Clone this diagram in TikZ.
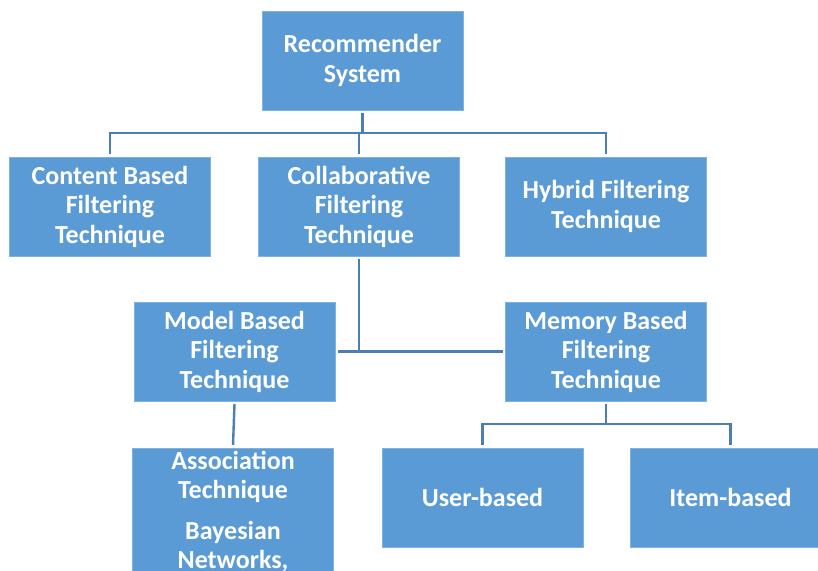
\documentclass[tikz,border=0pt]{standalone}
\usepackage{fontspec}
\setmainfont{Carlito}
\usepackage{tikz}
\usetikzlibrary{calc}

\definecolor{boxfill}{HTML}{5B9BD5}
\definecolor{boxedge}{HTML}{7FB2E0}
\definecolor{linkblue}{HTML}{4A7EB5}

\tikzset{
  techbox/.style={draw=boxedge, line width=0.8pt, fill=boxfill, text=white,
    font=\fontsize{26}{29.5}\selectfont\bfseries, align=center,
    minimum width=201pt, minimum height=99pt, inner sep=2pt, outer sep=3pt},
  link/.style={draw=linkblue, line width=2.4pt}
}

\begin{document}
\begin{tikzpicture}[x=1pt,y=-1pt]
    \useasboundingbox (0,0) rectangle (818,570);
    \clip (0,0) rectangle (818,570); % boxes at the bottom and right run off the page

    % top of the tree
    \node[techbox] (root)    at (362.5,60.5)  {Recommender\\System};
    \node[techbox] (content) at (110,206.5)   {Content Based\\Filtering\\Technique};
    \node[techbox] (collab)  at (359,206.5)   {Collaborative\\Filtering\\Technique};
    \node[techbox] (hybrid)  at (606,206.5)   {Hybrid Filtering\\Technique};

    % second level
    \node[techbox] (model)   at (234.5,351.5) {Model Based\\Filtering\\Technique};
    \node[techbox] (memory)  at (606,351.5)   {Memory Based\\Filtering\\Technique};

    % leaves
    \node[techbox, anchor=north, minimum height=0pt, inner ysep=3pt, outer sep=0pt] (assoc) at (233,448)
        {Association\\Technique\\[11pt]Bayesian\\Networks,};
    \node[techbox] (user)    at (482.5,497.5) {User-based};
    \node[techbox] (item)    at (730.5,497.5) {Item-based};

    % connectors
    \draw[link] (root.south) -- ++(0,20) coordinate (hub);
    \foreach \c in {content,collab,hybrid}{%
      \draw[link] (hub) -| (\c.north);
    }
    \draw[link] (collab.south) |- (model.east);
    \draw[link] (collab.south) |- (memory.west);
    \draw[link] (model.south) -- ($(assoc.north)+(0,-3)$);
    \draw[link] (memory.south) -- ++(0,20) coordinate (mhub);
    \foreach \c in {user,item}{%
      \draw[link] (mhub) -| (\c.north);
    }
\end{tikzpicture}
\end{document}
